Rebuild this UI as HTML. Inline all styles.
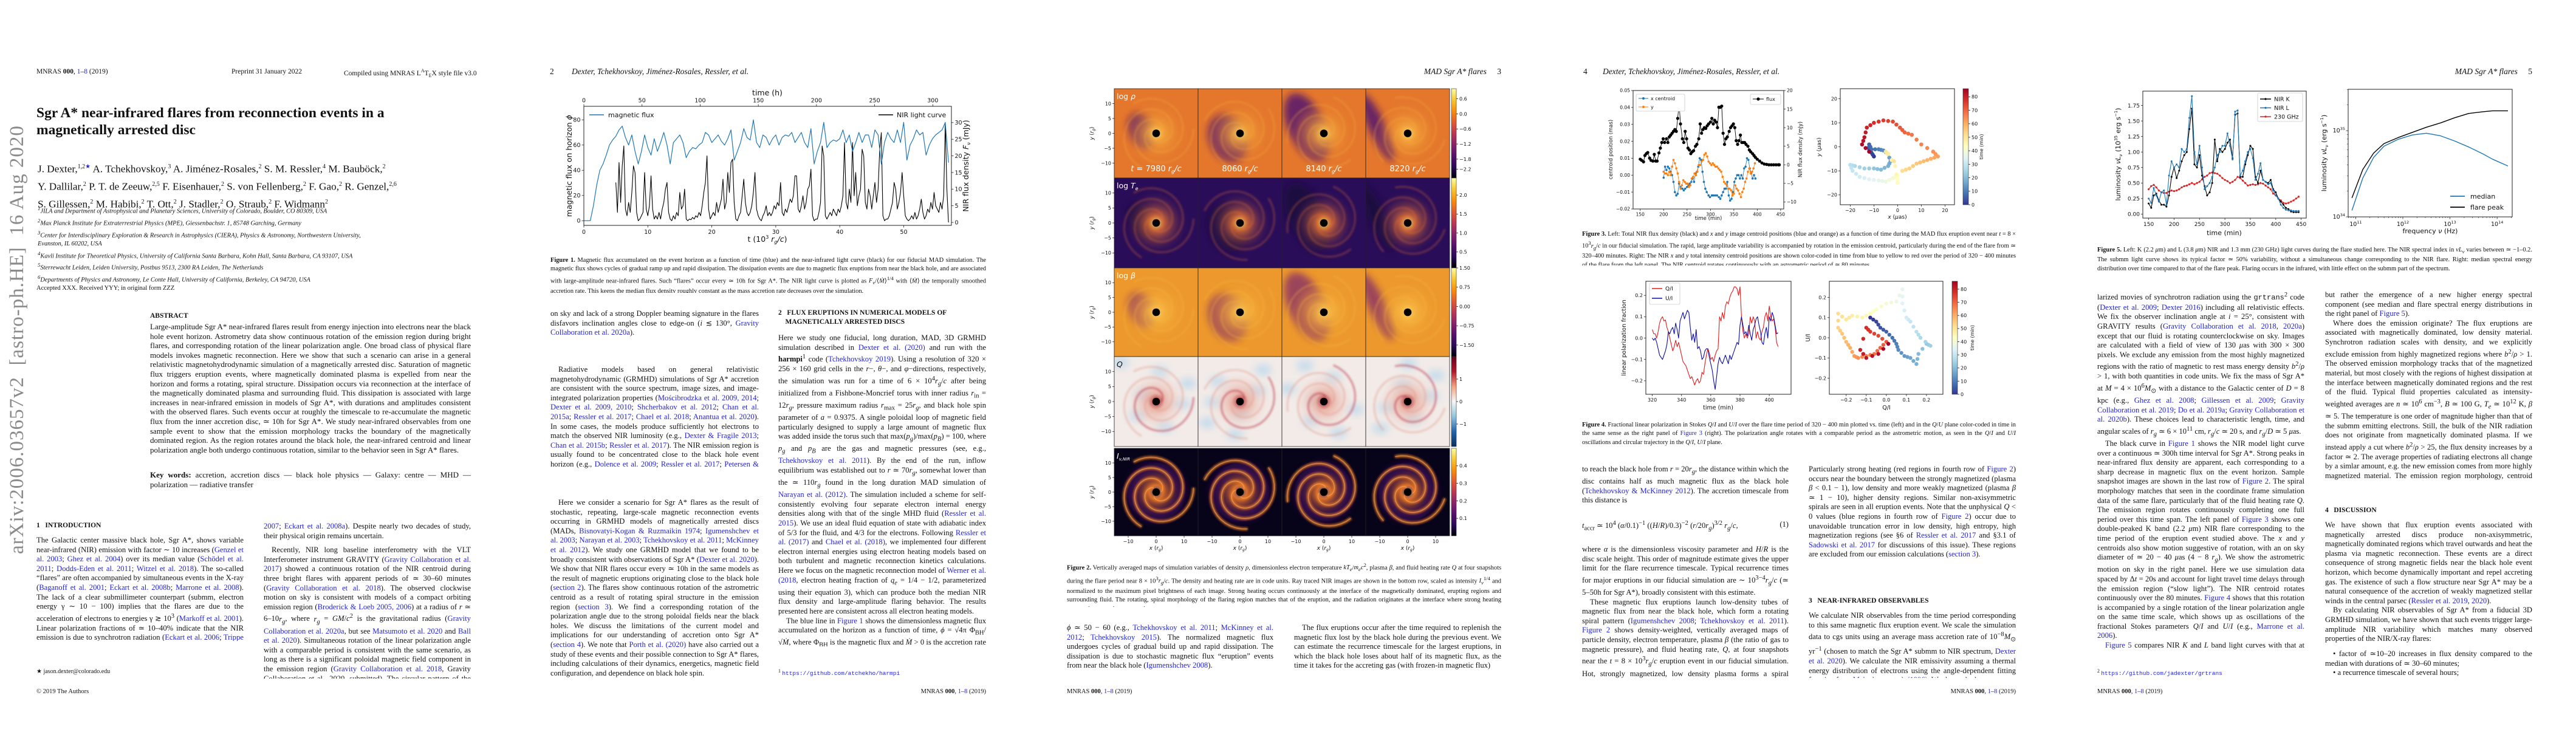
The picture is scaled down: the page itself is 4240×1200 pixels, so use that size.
<!DOCTYPE html>
<html><head><meta charset="utf-8">
<style>
*{margin:0;padding:0;box-sizing:border-box}
body{width:4240px;height:1200px;background:#fff;position:relative;overflow:hidden;font-family:"Liberation Serif",serif;color:#111}
.a{position:absolute}
.t{position:absolute;font-size:12.6px;line-height:15.6px;text-align:justify;overflow:hidden}
.t p{text-indent:0}
.t p.i{text-indent:13px}
.c{color:#2424d8}
.cap{position:absolute;font-size:10.4px;line-height:14.4px;text-align:justify;overflow:hidden}
.hd{position:absolute;font-size:11.5px;white-space:nowrap}
.hi{position:absolute;font-size:13.5px;font-style:italic;white-space:nowrap}
.sec{position:absolute;font-size:11.5px;font-weight:bold;line-height:15px}
.ft{position:absolute;font-size:10.5px;white-space:nowrap}
svg text{font-family:"DejaVu Sans",sans-serif}
</style></head><body>

<!-- ============ PAGE 1 ============ -->
<div class="hd" style="left:60px;top:112px">MNRAS <b>000</b>, <span class="c">1</span>–<span class="c">8</span> (2019)</div>
<div class="hd" style="left:381px;top:112px">Preprint 31 January 2022</div>
<div class="hd" style="left:566px;top:112px">Compiled using MNRAS L<sup style="font-size:8px">A</sup>T<sub style="font-size:8px">E</sub>X style file v3.0</div>
<div class="a" style="left:60px;top:172px;font-size:23.5px;font-weight:bold;line-height:28px;width:700px">Sgr A* near-infrared flares from reconnection events in a<br>magnetically arrested disc</div>
<div class="a" style="left:62px;top:262px;font-size:17.2px;line-height:25.5px;width:730px;white-space:nowrap">J. Dexter,<sup style="font-size:10px">1,2<span class="c">★</span></sup> A. Tchekhovskoy,<sup style="font-size:10px">3</sup> A. Jiménez-Rosales,<sup style="font-size:10px">2</sup> S. M. Ressler,<sup style="font-size:10px">4</sup> M. Bauböck,<sup style="font-size:10px">2</sup><br>Y. Dallilar,<sup style="font-size:10px">2</sup> P. T. de Zeeuw,<sup style="font-size:10px">2,5</sup> F. Eisenhauer,<sup style="font-size:10px">2</sup> S. von Fellenberg,<sup style="font-size:10px">2</sup> F. Gao,<sup style="font-size:10px">2</sup> R. Genzel,<sup style="font-size:10px">2,6</sup><br>S. Gillessen,<sup style="font-size:10px">2</sup> M. Habibi,<sup style="font-size:10px">2</sup> T. Ott,<sup style="font-size:10px">2</sup> J. Stadler,<sup style="font-size:10px">2</sup> O. Straub,<sup style="font-size:10px">2</sup> F. Widmann<sup style="font-size:10px">2</sup></div>
<div class="a" style="left:62px;top:336px;font-size:10.4px;font-style:italic;line-height:14.3px;width:720px"><sup>1</sup>JILA and Department of Astrophysical and Planetary Sciences, University of Colorado, Boulder, CO 80309, USA<br><sup>2</sup>Max Planck Institute for Extraterrestrial Physics (MPE), Giessenbachstr. 1, 85748 Garching, Germany<br><sup>3</sup>Center for Interdisciplinary Exploration &amp; Research in Astrophysics (CIERA), Physics &amp; Astronomy, Northwestern University,<br>Evanston, IL 60202, USA<br><sup>4</sup>Kavli Institute for Theoretical Physics, University of California Santa Barbara, Kohn Hall, Santa Barbara, CA 93107, USA<br><sup>5</sup>Sterrewacht Leiden, Leiden University, Postbus 9513, 2300 RA Leiden, The Netherlands<br><sup>6</sup>Departments of Physics and Astronomy, Le Conte Hall, University of California, Berkeley, CA 94720, USA</div>
<div class="hd" style="left:60px;top:469px;font-size:10.5px">Accepted XXX. Received YYY; in original form ZZZ</div>
<div class="a" style="left:247px;top:514px;font-size:11.5px;font-weight:bold">ABSTRACT</div>
<div class="t" style="left:247px;top:530px;width:528px;height:236px;font-size:13px">Large-amplitude Sgr A* near-infrared flares result from energy injection into electrons near the black hole event horizon. Astrometry data show continuous rotation of the emission region during bright flares, and corresponding rotation of the linear polarization angle. One broad class of physical flare models invokes magnetic reconnection. Here we show that such a scenario can arise in a general relativistic magnetohydrodynamic simulation of a magnetically arrested disc. Saturation of magnetic flux triggers eruption events, where magnetically dominated plasma is expelled from near the horizon and forms a rotating, spiral structure. Dissipation occurs via reconnection at the interface of the magnetically dominated plasma and surrounding fluid. This dissipation is associated with large increases in near-infrared emission in models of Sgr A*, with durations and amplitudes consistent with the observed flares. Such events occur at roughly the timescale to re-accumulate the magnetic flux from the inner accretion disc, ≃ 10h for Sgr A*. We study near-infrared observables from one sample event to show that the emission morphology tracks the boundary of the magnetically dominated region. As the region rotates around the black hole, the near-infrared centroid and linear polarization angle both undergo continuous rotation, similar to the behavior seen in Sgr A* flares.</div>
<div class="t" style="left:247px;top:774px;width:528px;height:32px;font-size:13px"><b>Key words:</b> accretion, accretion discs — black hole physics — Galaxy: centre — MHD — polarization — radiative transfer</div>
<div class="a" style="left:-255px;top:607px;width:570px;height:40px;transform:rotate(-90deg);font-size:33px;color:#8a8a8a;white-space:nowrap;letter-spacing:1px;text-align:center">arXiv:2006.03657v2 &nbsp;[astro-ph.HE] &nbsp;16 Aug 2020</div>
<div class="sec" style="left:60px;top:858px">1&nbsp;&nbsp; INTRODUCTION</div>
<div class="t" style="left:60px;top:882px;width:341px;height:173px"><p>The Galactic center massive black hole, Sgr A*, shows variable near-infrared (NIR) emission with factor ∼ 10 increases (<span class="c">Genzel et al. 2003</span>; <span class="c">Ghez et al. 2004</span>) over its median value (<span class="c">Schödel et al. 2011</span>; <span class="c">Dodds-Eden et al. 2011</span>; <span class="c">Witzel et al. 2018</span>). The so-called “flares” are often accompanied by simultaneous events in the X-ray (<span class="c">Baganoff et al. 2001</span>; <span class="c">Eckart et al. 2008b</span>; <span class="c">Marrone et al. 2008</span>). The lack of a clear submillimeter counterpart (submm, electron energy γ ∼ 10 − 100) implies that the flares are due to the acceleration of electrons to energies γ ≳ 10<sup>3</sup> (<span class="c">Markoff et al. 2001</span>). Linear polarization fractions of ≃ 10–40% indicate that the NIR emission is due to synchrotron radiation (<span class="c">Eckart et al. 2006</span>; <span class="c">Trippe et al.</span></p></div>
<div class="t" style="left:434px;top:859px;width:341px;height:258px"><p><span class="c">2007</span>; <span class="c">Eckart et al. 2008a</span>). Despite nearly two decades of study, their physical origin remains uncertain.</p><p class="i" style="margin-top:8px">Recently, NIR long baseline interferometry with the VLT Interferometer instrument GRAVITY (<span class="c">Gravity Collaboration et al. 2017</span>) showed a continuous rotation of the NIR centroid during three bright flares with apparent periods of ≃ 30–60 minutes (<span class="c">Gravity Collaboration et al. 2018</span>). The observed clockwise motion on sky is consistent with models of a compact orbiting emission region (<span class="c">Broderick &amp; Loeb 2005, 2006</span>) at a radius of <i>r</i> ≃ 6–10<i>r<sub>g</sub></i>, where <i>r<sub>g</sub></i> = <i>GM</i>/<i>c</i><sup>2</sup> is the gravitational radius (<span class="c">Gravity Collaboration et al. 2020a</span>, but see <span class="c">Matsumoto et al. 2020</span> and <span class="c">Ball et al. 2020</span>). Simultaneous rotation of the linear polarization angle with a comparable period is consistent with the same scenario, as long as there is a significant poloidal magnetic field component in the emission region (<span class="c">Gravity Collaboration et al. 2018</span>, Gravity Collaboration et al., 2020, submitted). The circular pattern of the centroid motion</p></div>
<div class="ft" style="left:60px;top:1100px;font-size:10px">★ jason.dexter@colorado.edu</div>
<div class="ft" style="left:60px;top:1133px">© 2019 The Authors</div>

<!-- ============ PAGE 2 ============ -->
<div class="hi" style="left:905px;top:110px;font-style:normal">2</div>
<div class="hi" style="left:941px;top:110px">Dexter, Tchekhovskoy, Jiménez-Rosales, Ressler, et al.</div>
<div class="cap" style="left:906px;top:422px;width:717px;height:60px"><b>Figure 1.</b> Magnetic flux accumulated on the event horizon as a function of time (blue) and the near-infrared light curve (black) for our fiducial MAD simulation. The magnetic flux shows cycles of gradual ramp up and rapid dissipation. The dissipation events are due to magnetic flux eruptions from near the black hole, and are associated with large-amplitude near-infrared flares. Such “flares” occur every ≃ 10h for Sgr A*. The NIR light curve is plotted as <i>F<sub>ν</sub></i>/⟨<i>Ṁ</i>⟩<sup>1/4</sup> with ⟨<i>Ṁ</i>⟩ the temporally smoothed accretion rate. This keeps the median flux density roughly constant as the mass accretion rate decreases over the simulation.</div>
<div class="t" style="left:906px;top:509px;width:343px;height:48px">on sky and lack of a strong Doppler beaming signature in the flares disfavors inclination angles close to edge-on (<i>i</i> ≲ 130°, <span class="c">Gravity Collaboration et al. 2020a</span>).</div>
<div class="t" style="left:906px;top:601px;width:343px;height:173px"><p class="i">Radiative models based on general relativistic magnetohydrodynamic (GRMHD) simulations of Sgr A* accretion are consistent with the source spectrum, image sizes, and image-integrated polarization properties (<span class="c">Mościbrodzka et al. 2009, 2014</span>; <span class="c">Dexter et al. 2009, 2010</span>; <span class="c">Shcherbakov et al. 2012</span>; <span class="c">Chan et al. 2015a</span>; <span class="c">Ressler et al. 2017</span>; <span class="c">Chael et al. 2018</span>; <span class="c">Anantua et al. 2020</span>). In some cases, the models produce sufficiently hot electrons to match the observed NIR luminosity (e.g., <span class="c">Dexter &amp; Fragile 2013</span>; <span class="c">Chan et al. 2015b</span>; <span class="c">Ressler et al. 2017</span>). The NIR emission region is usually found to be concentrated close to the black hole event horizon (e.g., <span class="c">Dolence et al. 2009</span>; <span class="c">Ressler et al. 2017</span>; <span class="c">Petersen &amp; Gammie 2020</span>).</p></div>
<div class="t" style="left:906px;top:820px;width:343px;height:297px"><p class="i">Here we consider a scenario for Sgr A* flares as the result of stochastic, repeating, large-scale magnetic reconnection events occurring in GRMHD models of magnetically arrested discs (MADs, <span class="c">Bisnovatyi-Kogan &amp; Ruzmaikin 1974</span>; <span class="c">Igumenshchev et al. 2003</span>; <span class="c">Narayan et al. 2003</span>; <span class="c">Tchekhovskoy et al. 2011</span>; <span class="c">McKinney et al. 2012</span>). We study one GRMHD model that we found to be broadly consistent with observations of Sgr A* (<span class="c">Dexter et al. 2020</span>). We show that NIR flares occur every ≃ 10h in the same models as the result of magnetic eruptions originating close to the black hole (<span class="c">section 2</span>). The flares show continuous rotation of the astrometric centroid as a result of rotating spiral structure in the emission region (<span class="c">section 3</span>). We find a corresponding rotation of the polarization angle due to the strong poloidal fields near the black holes. We discuss the limitations of the current model and implications for our understanding of accretion onto Sgr A* (<span class="c">section 4</span>). We note that <span class="c">Porth et al. (2020)</span> have also carried out a study of these events and their possible connection to Sgr A* flares, including calculations of their dynamics, energetics, magnetic field configuration, and dependence on black hole spin.</p></div>
<div class="sec" style="left:1281px;top:508px;width:342px">2&nbsp;&nbsp; FLUX ERUPTIONS IN NUMERICAL MODELS OF<br>&nbsp;&nbsp;&nbsp;&nbsp;MAGNETICALLY ARRESTED DISCS</div>
<div class="t" style="left:1281px;top:549px;width:342px;height:515px"><p>Here we study one fiducial, long duration, MAD, 3D GRMHD simulation described in <span class="c">Dexter et al. (2020)</span> and run with the <b>harmpi</b><sup>1</sup> code (<span class="c">Tchekhovskoy 2019</span>). Using a resolution of 320 × 256 × 160 grid cells in the <i>r</i>−, <i>θ</i>−, and <i>φ</i>−directions, respectively, the simulation was run for a time of 6 × 10<sup>4</sup><i>r<sub>g</sub></i>/<i>c</i> after being initialized from a Fishbone-Moncrief torus with inner radius <i>r</i><sub>in</sub> = 12<i>r<sub>g</sub></i>, pressure maximum radius <i>r</i><sub>max</sub> = 25<i>r<sub>g</sub></i>, and black hole spin parameter of <i>a</i> = 0.9375. A single poloidal loop of magnetic field particularly designed to supply a large amount of magnetic flux was added inside the torus such that max(<i>p<sub>g</sub></i>)/max(<i>p<sub>B</sub></i>) = 100, where <i>p<sub>g</sub></i> and <i>p<sub>B</sub></i> are the gas and magnetic pressures (see, e.g., <span class="c">Tchekhovskoy et al. 2011</span>). By the end of the run, inflow equilibrium was established out to <i>r</i> ≃ 70<i>r<sub>g</sub></i>, somewhat lower than the ≃ 110<i>r<sub>g</sub></i> found in the long duration MAD simulation of <span class="c">Narayan et al. (2012)</span>. The simulation included a scheme for self-consistently evolving four separate electron internal energy densities along with that of the single MHD fluid (<span class="c">Ressler et al. 2015</span>). We use an ideal fluid equation of state with adiabatic index of 5/3 for the fluid, and 4/3 for the electrons. Following <span class="c">Ressler et al. (2017)</span> and <span class="c">Chael et al. (2018)</span>, we implemented four different electron internal energies using electron heating models based on both turbulent and magnetic reconnection kinetics calculations. Here we focus on the magnetic reconnection model of <span class="c">Werner et al. (2018</span>, electron heating fraction of <i>q<sub>e</sub></i> = 1/4 − 1/2, parameterized using their equation 3), which can produce both the median NIR flux density and large-amplitude flaring behavior. The results presented here are consistent across all electron heating models.</p><p class="i">The blue line in <span class="c">Figure 1</span> shows the dimensionless magnetic flux accumulated on the horizon as a function of time, <i>ϕ</i> = √4π Φ<sub>BH</sub>/√<i>Ṁ</i>, where Φ<sub>BH</sub> is the magnetic flux and <i>Ṁ</i> &gt; 0 is the accretion rate which we smooth over timescales of 1000 <i>r<sub>g</sub></i>/<i>c</i>. Magnetic flux is advected inwards with the flow and rapidly builds up on the event horizon, saturating in a MAD state where</p></div>
<div class="ft" style="left:1281px;top:1100px;font-size:9.5px"><sup>1</sup> <span class="c" style="font-family:'Liberation Mono',monospace">https://github.com/atchekho/harmpi</span></div>
<div class="ft" style="left:1450px;top:1133px;width:173px;text-align:right">MNRAS <b>000</b>, <span class="c">1</span>–<span class="c">8</span> (2019)</div>

<!-- ============ PAGE 3 ============ -->
<div class="hi" style="left:2250px;top:110px;width:221px;text-align:right">MAD Sgr A* flares <span style="font-style:normal;margin-left:14px">3</span></div>
<div class="cap" style="left:1756px;top:923px;width:715px;height:76px"><b>Figure 2.</b> Vertically averaged maps of simulation variables of density <i>ρ</i>, dimensionless electron temperature <i>kT<sub>e</sub></i>/<i>m<sub>e</sub>c</i><sup>2</sup>, plasma <i>β</i>, and fluid heating rate <i>Q</i> at four snapshots during the flare period near 8 × 10<sup>3</sup><i>r<sub>g</sub></i>/<i>c</i>. The density and heating rate are in code units. Ray traced NIR images are shown in the bottom row, scaled as intensity <i>I<sub>ν</sub></i><sup>1/4</sup> and normalized to the maximum pixel brightness of each image. Strong heating occurs continuously at the interface of the magnetically dominated, erupting regions and surrounding fluid. The rotating, spiral morphology of the flaring region matches that of the eruption, and the radiation originates at the interface where strong heating occurs via magnetic reconnection.</div>
<div class="t" style="left:1756px;top:1026px;width:340px;height:80px"><i>ϕ</i> ≃ 50 − 60 (e.g., <span class="c">Tchekhovskoy et al. 2011</span>; <span class="c">McKinney et al. 2012</span>; <span class="c">Tchekhovskoy 2015</span>). The normalized magnetic flux undergoes cycles of gradual build up and rapid dissipation. The dissipation is due to stochastic magnetic flux “eruption” events from near the black hole (<span class="c">Igumenshchev 2008</span>).</div>
<div class="t" style="left:2130px;top:1026px;width:341px;height:80px"><p class="i">The flux eruptions occur after the time required to replenish the magnetic flux lost by the black hole during the previous event. We can estimate the recurrence timescale for the largest eruptions, in which the black hole loses about half of its magnetic flux, as the time it takes for the accreting gas (with frozen-in magnetic flux)</p></div>
<div class="ft" style="left:1756px;top:1133px">MNRAS <b>000</b>, <span class="c">1</span>–<span class="c">8</span> (2019)</div>

<!-- ============ PAGE 4 ============ -->
<div class="hi" style="left:2606px;top:110px;font-style:normal">4</div>
<div class="hi" style="left:2638px;top:110px">Dexter, Tchekhovskoy, Jiménez-Rosales, Ressler, et al.</div>
<div class="cap" style="left:2604px;top:379px;width:714px;height:58px"><b>Figure 3.</b> Left: Total NIR flux density (black) and <i>x</i> and <i>y</i> image centroid positions (blue and orange) as a function of time during the MAD flux eruption event near <i>t</i> = 8 × 10<sup>3</sup><i>r<sub>g</sub></i>/<i>c</i> in our fiducial simulation. The rapid, large amplitude variability is accompanied by rotation in the emission centroid, particularly during the end of the flare from ≃ 320–400 minutes. Right: The NIR <i>x</i> and <i>y</i> total intensity centroid positions are shown color-coded in time from blue to yellow to red over the period of 320 − 400 minutes of the flare from the left panel. The NIR centroid rotates continuously with an astrometric period of ≃ 80 minutes.</div>
<div class="cap" style="left:2604px;top:693px;width:714px;height:44px"><b>Figure 4.</b> Fractional linear polarization in Stokes <i>Q</i>/<i>I</i> and <i>U</i>/<i>I</i> over the flare time period of 320 − 400 min plotted vs. time (left) and in the <i>Q</i>/<i>U</i> plane color-coded in time in the same sense as the right panel of <span class="c">Figure 3</span> (right). The polarization angle rotates with a comparable period as the astrometric motion, as seen in the <i>Q</i>/<i>I</i> and <i>U</i>/<i>I</i> oscillations and circular trajectory in the <i>Q</i>/<i>I</i>, <i>U</i>/<i>I</i> plane.</div>
<div class="t" style="left:2604px;top:765px;width:340px;height:63px">to reach the black hole from <i>r</i> = 20<i>r<sub>g</sub></i>, the distance within which the disc contains half as much magnetic flux as the black hole (<span class="c">Tchekhovskoy &amp; McKinney 2012</span>). The accretion timescale from this distance is</div>
<div class="a" style="left:2604px;top:856px;width:340px;font-size:12.6px;white-space:nowrap"><i>t</i><sub>accr</sub> ≃ 10<sup>4</sup> (<i>α</i>/0.1)<sup>−1</sup> ((<i>H</i>/<i>R</i>)/0.3)<sup>−2</sup> (<i>r</i>/20<i>r<sub>g</sub></i>)<sup>3/2</sup> <i>r<sub>g</sub></i>/<i>c</i>,<span style="position:absolute;right:0">(1)</span></div>
<div class="t" style="left:2604px;top:897px;width:340px;height:219px"><p>where <i>α</i> is the dimensionless viscosity parameter and <i>H</i>/<i>R</i> is the disc scale height. This order of magnitude estimate gives the upper limit for the flare recurrence timescale. Typical recurrence times for major eruptions in our fiducial simulation are ∼ 10<sup>3−4</sup><i>r<sub>g</sub></i>/<i>c</i> (≃ 5–50h for Sgr A*), broadly consistent with this estimate.</p><p class="i">These magnetic flux eruptions launch low-density tubes of magnetic flux from near the black hole, which form a rotating spiral pattern (<span class="c">Igumenshchev 2008</span>; <span class="c">Tchekhovskoy et al. 2011</span>). <span class="c">Figure 2</span> shows density-weighted, vertically averaged maps of particle density, electron temperature, plasma <i>β</i> (the ratio of gas to magnetic pressure), and fluid heating rate, <i>Q</i>, at four snapshots near the <i>t</i> = 8 × 10<sup>3</sup><i>r<sub>g</sub></i>/<i>c</i> eruption event in our fiducial simulation. Hot, strongly magnetized, low density plasma forms a spiral structure which rotates around the black hole at small radii of <i>r</i> ≲ 10<i>r<sub>g</sub></i>.</p></div>
<div class="t" style="left:2977px;top:765px;width:341px;height:160px">Particularly strong heating (red regions in fourth row of <span class="c">Figure 2</span>) occurs near the boundary between the strongly magnetized (plasma <i>β</i> &lt; 0.1 − 1), low density and more weakly magnetized (plasma <i>β</i> ≃ 1 − 10), higher density regions. Similar non-axisymmetric spirals are seen in all eruption events. Note that the unphysical <i>Q</i> &lt; 0 values (blue regions in fourth row of <span class="c">Figure 2</span>) occur due to unavoidable truncation error in low density, high entropy, high magnetization regions (see §6 of <span class="c">Ressler et al. 2017</span> and §3.1 of <span class="c">Sadowski et al. 2017</span> for discussions of this issue). These regions are excluded from our emission calculations (<span class="c">section 3</span>).</div>
<div class="sec" style="left:2977px;top:982px">3&nbsp;&nbsp; NEAR-INFRARED OBSERVABLES</div>
<div class="t" style="left:2977px;top:1006px;width:341px;height:110px">We calculate NIR observables from the time period corresponding to this same magnetic flux eruption event. We scale the simulation data to cgs units using an average mass accretion rate of 10<sup>−8</sup><i>M</i><sub>⊙</sub> yr<sup>−1</sup> (chosen to match the Sgr A* submm to NIR spectrum, <span class="c">Dexter et al. 2020</span>). We calculate the NIR emissivity assuming a thermal energy distribution of electrons using the angle-dependent fitting function from <span class="c">Mahadevan et al. (1996)</span>. We then calculate po-</div>
<div class="ft" style="left:3145px;top:1133px;width:173px;text-align:right">MNRAS <b>000</b>, <span class="c">1</span>–<span class="c">8</span> (2019)</div>

<!-- ============ PAGE 5 ============ -->
<div class="hi" style="left:3947px;top:110px;width:221px;text-align:right">MAD Sgr A* flares <span style="font-style:normal;margin-left:14px">5</span></div>
<div class="cap" style="left:3452px;top:405px;width:716px;height:44px"><b>Figure 5.</b> Left: K (2.2 <i>μ</i>m) and L (3.8 <i>μ</i>m) NIR and 1.3 mm (230 GHz) light curves during the flare studied here. The NIR spectral index in <i>νL<sub>ν</sub></i> varies between ≃ −1–0.2. The submm light curve shows its typical factor ≃ 50% variability, without a simultaneous change corresponding to the NIR flare. Right: median spectral energy distribution over time compared to that of the flare peak. Flaring occurs in the infrared, with little effect on the submm part of the spectrum.</div>
<div class="t" style="left:3452px;top:478px;width:341px;height:594px"><p>larized movies of synchrotron radiation using the <span style="font-family:'Liberation Mono',monospace;font-size:12px">grtrans</span><sup>2</sup> code (<span class="c">Dexter et al. 2009</span>; <span class="c">Dexter 2016</span>) including all relativistic effects. We fix the observer inclination angle at <i>i</i> = 25°, consistent with GRAVITY results (<span class="c">Gravity Collaboration et al. 2018</span>, <span class="c">2020a</span>) except that our fluid is rotating counterclockwise on sky. Images are calculated with a field of view of 130 <i>μ</i>as with 300 × 300 pixels. We exclude any emission from the most highly magnetized regions with the ratio of magnetic to rest mass energy density <i>b</i><sup>2</sup>/<i>ρ</i> &gt; 1, with both quantities in code units. We fix the mass of Sgr A* at <i>M</i> = 4 × 10<sup>6</sup><i>M</i><sub>⊙</sub> with a distance to the Galactic center of <i>D</i> = 8 kpc (e.g., <span class="c">Ghez et al. 2008</span>; <span class="c">Gillessen et al. 2009</span>; <span class="c">Gravity Collaboration et al. 2019</span>; <span class="c">Do et al. 2019a</span>; <span class="c">Gravity Collaboration et al. 2020b</span>). These choices lead to characteristic length, time, and angular scales of <i>r<sub>g</sub></i> ≃ 6 × 10<sup>11</sup> cm, <i>r<sub>g</sub></i>/<i>c</i> ≃ 20 s, and <i>r<sub>g</sub></i>/<i>D</i> ≃ 5 <i>μ</i>as.</p><p class="i">The black curve in <span class="c">Figure 1</span> shows the NIR model light curve over a continuous ≃ 300h time interval for Sgr A*. Strong peaks in near-infrared flux density are apparent, each corresponding to a sharp decrease in magnetic flux on the event horizon. Sample snapshot images are shown in the last row of <span class="c">Figure 2</span>. The spiral morphology matches that seen in the coordinate frame simulation data of the same flare, particularly that of the fluid heating rate <i>Q</i>. The emission region rotates continuously completing one full period over this time span. The left panel of <span class="c">Figure 3</span> shows one double-peaked K band (2.2 <i>μ</i>m) NIR flare corresponding to the time period of the eruption event studied above. The <i>x</i> and <i>y</i> centroids also show motion suggestive of rotation, with an on sky diameter of ≃ 20 − 40 <i>μ</i>as (4 − 8 <i>r<sub>g</sub></i>). We show the astrometric motion on sky in the right panel. Here we use simulation data spaced by Δ<i>t</i> = 20s and account for light travel time delays through the emission region (“slow light”). The NIR centroid rotates continuously over the 80 minutes. <span class="c">Figure 4</span> shows that this rotation is accompanied by a single rotation of the linear polarization angle on the same time scale, which shows up as oscillations of the fractional Stokes parameters <i>Q</i>/<i>I</i> and <i>U</i>/<i>I</i> (e.g., <span class="c">Marrone et al. 2006</span>).</p><p class="i"><span class="c">Figure 5</span> compares NIR <i>K</i> and <i>L</i> band light curves with that at 1.3mm (230 GHz). The spectral index is variable during the flare but fairly flat, ranging from values of −1 ≲ <i>α</i> ≲ 0.2 for <i>νL<sub>ν</sub></i> ∼ <i>ν<sup>α</sup></i>. There is no simultaneous rise in submm flux during the NIR flare,</p></div>
<div class="ft" style="left:3452px;top:1100px;font-size:9.5px"><sup>2</sup> <span class="c" style="font-family:'Liberation Mono',monospace">https://github.com/jadexter/grtrans</span></div>
<div class="t" style="left:3827px;top:478px;width:341px;height:312px"><p>but rather the emergence of a new higher energy spectral component (see median and flare spectral energy distributions in the right panel of <span class="c">Figure 5</span>).</p><p class="i">Where does the emission originate? The flux eruptions are associated with magnetically dominated, low density material. Synchrotron radiation scales with density, and we explicitly exclude emission from highly magnetized regions where <i>b</i><sup>2</sup>/<i>ρ</i> &gt; 1. The observed emission morphology tracks that of the magnetized material, but most closely with the regions of highest dissipation at the interface between magnetically dominated regions and the rest of the fluid. Typical fluid properties calculated as intensity-weighted averages are <i>n</i> ≃ 10<sup>6</sup> cm<sup>−3</sup>, <i>B</i> ≃ 100 G, <i>T<sub>e</sub></i> ≃ 10<sup>12</sup> K, <i>β</i> ≃ 5. The temperature is one order of magnitude higher than that of the submm emitting electrons. Still, the bulk of the NIR radiation does not originate from magnetically dominated plasma. If we instead apply a cut where <i>b</i><sup>2</sup>/<i>ρ</i> &gt; 25, the flux density increases by a factor ≃ 2. The average properties of radiating electrons all change by a simlar amount, e.g. the new emission comes from more highly magnetized material. The emission region morphology, centroid motion, and polarization behavior remain the same.</p></div>
<div class="sec" style="left:3827px;top:833px">4&nbsp;&nbsp; DISCUSSION</div>
<div class="t" style="left:3827px;top:857px;width:341px;height:203px"><p>We have shown that flux eruption events associated with magnetically arrested discs produce non-axisymmetric, magnetically dominated regions which travel outwards and heat the plasma via magnetic reconnection. These events are a direct consequence of strong magnetic fields near the black hole event horizon, which become dynamically important and repel accreting gas. The existence of such a flow structure near Sgr A* may be a natural consequence of the accretion of weakly magnetized stellar winds in the central parsec (<span class="c">Ressler et al. 2019</span>, <span class="c">2020</span>).</p><p class="i">By calculating NIR observables of Sgr A* from a fiducial 3D GRMHD simulation, we have shown that such events trigger large-amplitude NIR variability which matches many observed properties of the NIR/X-ray flares:</p></div>
<div class="t" style="left:3827px;top:1069px;width:341px;height:48px"><p style="text-indent:13px">• factor of ≃10–20 increases in flux density compared to the median with durations of ≃ 30–60 minutes;</p><p style="text-indent:13px">• a recurrence timescale of several hours;</p></div>
<div class="ft" style="left:3452px;top:1133px">MNRAS <b>000</b>, <span class="c">1</span>–<span class="c">8</span> (2019)</div>

<svg id="s" class="a" style="left:0;top:0;pointer-events:none" width="4240" height="1200"><defs id="defs"></defs></svg>

<script>
// ================= DATA =================
const fig1FluxStart = 0, fig1FluxStep = 0.5;
const fig1Flux = [0,0,0,12,28,40,45,52,60,64,67,72,75,66,60,68,55,45,55,68,58,52,65,55,62,70,60,45,62,65,68,62,50,55,58,57,60,62,70,68,62,65,68,63,60,65,72,48,55,62,73,66,64,80,62,58,68,66,60,65,68,60,66,68,67,70,62,66,70,62,58,73,45,55,62,78,58,62,64,63,65,72,62,68,55,62,70,62,68,68,58,72,68,45,62,70,65,62,72,62,78,48,60,65,72,68,70,52,60,65,68,70,72,78,46];
const fig1NirStart = 5, fig1NirStep = 0.25;
const fig1Nir = [12,3,18,6,17,23,4,2,6,3,9,17,15,3,0.5,1,2,3,15,4,2,5,14,4,1,2,1,3,1,4,6,10,12,3,1,0.5,2,1,3,2,9,4,5,10,1,0.5,1,0.8,1.5,1,2,1.5,3,2,5,9,12,20,4,1,2,3,2,6,3,5,7,13,4,6,15,9,18,19,6,1,0.5,2,3,8,13,6,3,2,3,5,9,15,4,2,1,0.5,2,3,5,2,3,2,3,5,4,6,5,12,3,2,4,3,5,7,6,8,14,14,4,3,5,8,4,6,10,11,16,2,0.5,1,1,3,6,23,20,2,1,2,3,2,4,3,2,4,3,5,8,24,6,4,10,6,24,8,15,5,8,10,22,20,6,4,10,8,4,8,12,6,10,22,27,2,0.5,1,1,2,4,6,12,10,4,6,9,15,8,2,1,0.5,1,2,1,3,1,2,4,7,3,1,2,4,3,6,4,9,5,4,3,6,4,8,30,10,0];
const fig1XTicks = [0,10,20,30,40,50];
const fig1LeftTicks = [0,20,40,60,80];
const fig1RightTicks = [0,5,10,15,20,25,30];
const fig1TopTicksHours = [0,50,100,150,200,250,300];

const fig3FluxT = [150,153,157,160,163,166,170,173,177,180,183,186,190,193,196,199,202,206,209,212,215,218,221,224,227,230,233,236,240,243,246,249,252,255,258,261,264,268,271,275,278,281,284,287,290,293,296,300,303,306,309,312,315,318,321,324,327,330,333,336,340,343,346,349,352,355,358,361,364,367,370,373,376,380,383,386,390,393,396,400,405,410,415,420,425,430,435,440,445,447];
const fig3FluxV = [1.5,1.2,0.8,2.5,3,3.3,1.8,1.2,1,2.8,1,1,3.2,4.5,6,7,6,7,6,7.5,8,8.5,9,9.5,9,12.5,16.5,11,7,6,9,7,4.5,4,3,3.5,3.8,5,5.5,7,11,8.5,9.5,10,9.8,10.5,11,11.5,12.5,11,12,11.5,10,15.5,15.5,15.8,8.5,5.5,7,7.5,9,10,10.5,11,10,6.5,5.5,6.5,8,6,6,6,5.5,5,4,3.5,3,2.5,2,1.5,1,0.5,0.2,0.1,0,0,0,0,0,0];
const fig3CentT = [200,203,206,209,212,215,218,221,224,227,230,233,236,240,243,246,250,253,256,259,262,265,268,271,274,277,280,283,286,289,292,296,299,303,306,310,314,318,321,324,327,330,333,336,339,342,345,348,351,354,357,360,363,366,369,372,375,378,381,384,387,390,393,396];
const fig3CentX = [-0.0015,0.005,0.003,0.005,0.004,0.002,0,-0.004,-0.010,-0.012,-0.011,-0.005,-0.007,-0.008,-0.009,-0.008,-0.007,-0.006,-0.005,-0.004,-0.002,-0.004,0.001,0.002,0.005,0.010,0.009,0.002,-0.004,-0.008,-0.010,-0.012,-0.013,-0.012,-0.012,-0.012,-0.012,-0.013,-0.014,-0.012,-0.010,-0.008,-0.008,-0.004,-0.012,-0.015,-0.014,-0.010,-0.004,-0.002,0,0,-0.002,0,-0.002,0.004,0.005,0.010,0.009,0.004,0.001,-0.002,0,-0.002];
const fig3CentYT = [200,203,206,209,212,215,218,221,224,227,230,233,236,239,242,245,248,251,254,257,260,263,266,269,272,275,278,281,284,287,290,293,296,299,302,305,308,311,314,317,320,323,326,329,332,335,338,341,344,347,350,353,356,359,362,365,368,371,374,377,380,383,386,389,392,395];
const fig3CentY = [0.002,0.001,0.001,0,0.002,0,0.005,0.009,0.007,0.004,0.001,-0.004,-0.008,-0.006,-0.003,-0.004,-0.005,-0.005,-0.007,-0.006,-0.002,-0.001,0.001,0,0.002,0.006,0.006,0.008,0.009,0.012,0.013,0.011,0.008,0.007,0.006,0.007,0.006,0.005,0.005,0.004,0.003,0.002,-0.001,-0.004,-0.005,-0.006,-0.008,-0.008,-0.009,-0.012,-0.011,-0.006,-0.008,-0.009,-0.011,-0.013,-0.010,-0.008,-0.004,-0.002,0.002,0.004,0.001,0.002,0.004,0.007];
const fig3XTicks = [150,200,250,300,350,400,450];
const fig3LeftTicks = [-0.02,-0.01,0,0.01,0.02,0.03,0.04,0.05];
const fig3LeftLabels = ['−0.02','−0.01','0.00','0.01','0.02','0.03','0.04','0.05'];
const fig3RightTicks = [-10,-5,0,5,10,15,20];
const fig3SkyT = [0,2,4,6,8,10,12,14,16,18,20,22,24,26,28,30,32,34,36,38,40,42,44,46,48,50,52,54,56,58,60,62,64,66,68,70,72,74,76,78,80,82,84,86];
const fig3SkyX = [-10,-11,-12,-12,-11,-8,-6,-4,-3,-4,-7,-10,-14,-18,-20,-19,-16,-12,-8,-5,-2,0,0,-1,-4,-5,2,5,8,11,14,17,15,10,6,3,1,-2,-6,-10,-13,-14,-15,-12];
const fig3SkyY = [-4,-2.5,-1,1,-1,-1,-1.5,-3,-6,-8,-9.5,-9,-9,-8,-7.5,-10,-12.5,-13.5,-14,-14.5,-13,-12,-15,-8,-3,-2,-10,-9,-7,-6,-5,-4,-2,1,5,6,8,10.5,11,10,8,4,1,-2];
const skyTicks = [-20,-10,0,10,20];
const cbTicks = [0,10,20,30,40,50,60,70,80];

const fig4Start = 320, fig4Step = 1;
const fig4Q = [.04,.02,.02,0,.03,.07,.09,.1,.08,.085,.05,.03,0,-.03,-.06,-.04,-.01,-.04,-.02,-.05,-.08,-.11,-.12,-.13,-.15,-.17,-.19,-.18,-.2,-.22,-.2,-.19,-.21,-.2,-.16,-.17,-.12,-.08,-.05,-.07,-.1,-.09,-.11,-.08,-.06,-.05,.1,.08,.12,.09,.15,.17,.16,.19,.21,.22,.24,.24,.23,.2,.24,.1,.03,0,.02,0,.02,.1,.07,.1,.08,0,.03,0,-.01,.03,.05,.1,.12,.08,.15,.1,.08,.09,.05,-.02,-.04];
const fig4U = [0,-.01,0,-.02,-.05,-.08,-.09,-.1,-.08,-.06,-.03,.03,.02,.04,.05,.02,.07,.04,0,.08,.1,.12,.09,.11,.13,.12,.05,-.01,.02,-.02,.04,-.05,-.04,-.06,-.1,-.09,-.06,-.05,-.05,-.09,-.12,-.15,-.2,-.24,-.18,-.12,-.09,-.11,-.12,-.1,-.08,-.1,-.12,-.08,-.1,-.08,-.06,-.04,-.02,-.03,.06,.1,.06,.02,.03,.01,.06,.02,-.01,.04,.06,.09,.1,.06,.03,-.02,-.03,.02,.05,0,.1,.08,.12,.1,.06,.02,.025];
const fig4XTicks = [320,340,360,380,400];
const fig4YTicks = [-0.2,-0.1,0,0.1,0.2];
const fig4YLabels = ['−0.2','−0.1','0.0','0.1','0.2'];
const fig4QUT = [0,2,4,6,8,10,12,14,16,18,20,22,24,26,28,30,32,34,36,38,40,42,44,46,48,50,52,54,56,58,60,62,64,66,68,70,72,74,76,78,80,82,84,86];
const fig4QUq = [-.08,-.05,-.03,0,.03,.05,.06,.09,.12,.15,.16,.2,.22,.17,.15,.12,.1,.08,.08,.05,0,-.05,-.08,-.12,-.17,-.2,-.24,-.24,-.22,-.2,-.18,-.16,-.14,-.1,-.06,-.03,0,-.04,-.08,-.1,-.13,-.1,-.04,.01];
const fig4QUu = [.1,.08,.05,.03,0,-.03,-.06,-.09,-.1,-.13,-.08,-.03,-.04,0,.03,.08,.1,.17,.24,.18,.17,.14,.12,.1,.11,.09,.12,.05,.02,-.02,-.05,-.09,-.1,-.09,-.08,-.05,-.02,.01,.03,.05,-.06,-.1,-.08,-.03];
const quTicks = [-0.2,-0.1,0,0.1,0.2];
const quLabels = ['−0.2','−0.1','0.0','0.1','0.2'];

const fig5T = [150,155,160,165,170,175,180,185,190,195,200,205,210,215,220,225,230,235,240,245,250,255,260,265,270,275,280,285,290,295,300,305,310,315,320,325,330,335,340,345,350,355,360,365,370,375,380,385,390,395,400,405,410,415,420,425,430,435,440,445];
const fig5K = [.17,.10,.30,.33,.22,.15,.15,.12,.30,.60,.75,.58,.70,.85,.95,1.00,1.37,1.70,.80,.75,.95,.62,.45,.30,.35,.50,1.20,.85,1.05,1.00,1.05,1.15,1.20,.90,1.60,1.62,.60,.60,.80,.95,1.10,1.05,.60,.50,.70,.55,.52,.50,.55,.40,.35,.25,.20,.15,.10,.08,.04,.03,.03,.03];
const fig5L = [.25,.18,.42,.30,.20,.35,.38,.15,.62,.85,.75,.80,.75,1.05,1.00,1.05,1.55,1.90,1.00,.80,1.10,.75,.40,.45,.50,.60,.75,.95,1.00,1.10,1.10,1.30,1.10,.88,1.65,1.67,.62,.70,.85,1.00,1.05,.90,.55,.65,.82,.55,.52,.48,.50,.38,.30,.25,.15,.10,.07,.06,.06,.05,.05,.05];
const fig5R = [.40,.45,.47,.43,.38,.35,.34,.34,.36,.38,.37,.38,.40,.43,.45,.46,.48,.50,.48,.50,.52,.56,.60,.62,.66,.67,.66,.65,.62,.58,.55,.53,.50,.52,.55,.60,.58,.54,.50,.46,.47,.48,.47,.48,.50,.49,.46,.43,.40,.33,.30,.25,.22,.18,.17,.18,.20,.22,.25,.28];
const fig5XTicks = [150,200,250,300,350,400,450];
const fig5YTicks = [0,0.25,0.5,0.75,1.0,1.25,1.5,1.75];
const fig5YLabels = ['0.00','0.25','0.50','0.75','1.00','1.25','1.50','1.75'];
const sedLogNu = [10.92,11.15,11.38,11.6,11.9,12.2,12.5,12.8,13.1,13.4,13.7,13.9,14.23];
const sedMedian = [34.075,34.45,34.69,34.82,34.9,34.95,34.97,34.94,34.88,34.81,34.73,34.67,34.59];
const sedPeak = [34.22,34.55,34.74,34.85,34.92,34.98,35.04,35.09,35.15,35.2,35.22,35.23,35.23];
const sedXTicks = [11,12,13,14];
const sedYTicks = [34,35];

const cb2Ticks = [['0.6','0.0','−0.6','−1.2','−1.8','−2.2'],['2.0','1.5','1.0','0.5'],['1.50','0.75','0.00','−0.75','−1.50'],['1','0','−1'],['0.4','0.3','0.2','0.1']];
const cb2Vals = [[0.6,0,-0.6,-1.2,-1.8,-2.2],[2.0,1.5,1.0,0.5],[1.5,0.75,0,-0.75,-1.5],[1,0,-1],[0.4,0.3,0.2,0.1]];
const cb2Range = [[1.0,-2.55],[2.45,0.08],[1.5,-1.95],[2.0,-2.0],[0.5,0.0]];
const fig2Times = ['7980','8060','8140','8220'];

// ================= HELPERS =================
const NS='http://www.w3.org/2000/svg';
const svg=document.getElementById('s');
const defs=document.getElementById('defs');
function el(tag,attrs,parent){const e=document.createElementNS(NS,tag);for(const k in attrs)e.setAttribute(k,attrs[k]);(parent||svg).appendChild(e);return e;}
function txt(x,y,s,attrs,parent){const t=el('text',Object.assign({x:x,y:y,fill:'#111'},attrs||{}),parent);t.textContent=s;return t;}
function rich(x,y,html,attrs,parent){const t=el('text',Object.assign({x:x,y:y,fill:'#111'},attrs||{}),parent);t.innerHTML=html;return t;}
function lin(d0,d1,r0,r1){return v=>r0+(v-d0)/(d1-d0)*(r1-r0);}
function group(name){const g=el('g',{});return g;}
function frame(g,x0,y0,x1,y1){const r=el('rect',{x:x0,y:y0,width:x1-x0,height:y1-y0,fill:'none',stroke:'#222','stroke-width':1},g);}
function ticksX(g,X,y0,vals,labs,fs,len,up){vals.forEach((v,i)=>{const x=X(v);const l=el('line',{x1:x,x2:x,y1:y0,y2:up?y0-len:y0+len,stroke:'#222','stroke-width':0.8},g);const t=txt(x,up?y0-len-3:y0+len+fs+1,labs[i],{'font-size':fs,'text-anchor':'middle'},g);});}
function ticksY(g,Y,x0,vals,labs,fs,len,right){vals.forEach((v,i)=>{const y=Y(v);const l=el('line',{x1:x0,x2:right?x0+len:x0-len,y1:y,y2:y,stroke:'#222','stroke-width':0.8},g);const t=txt(right?x0+len+2:x0-len-2,y+fs*0.36,labs[i],{'font-size':fs,'text-anchor':right?'start':'end'},g);});}
function line(g,xs,ys,X,Y,color,w){const d=xs.map((x,i)=>(i?'L':'M')+X(x).toFixed(2)+' '+Y(ys[i]).toFixed(2)).join('');return el('path',{d:d,fill:'none',stroke:color,'stroke-width':w,'stroke-linejoin':'round'},g);}
function dots(g,xs,ys,X,Y,color,r){xs.forEach((x,i)=>{const c=el('circle',{cx:X(x),cy:Y(ys[i]),r:r,fill:color},g);});}
function fmt(v){return String(v);}
const RYB=['#313695','#4575b4','#74add1','#abd9e9','#e0f3f8','#ffffbf','#fee090','#fdae61','#f46d43','#d73027','#a50026'];
function hex(h){return [parseInt(h.substr(1,2),16),parseInt(h.substr(3,2),16),parseInt(h.substr(5,2),16)];}
function cmap(f){f=Math.max(0,Math.min(1,f));const p=f*10,i=Math.min(9,Math.floor(p)),u=p-i;const a=hex(RYB[i]),b=hex(RYB[i+1]);return 'rgb('+a.map((v,k)=>Math.round(v+(b[k]-v)*u)).join(',')+')';}
function gradient(id,stops,vertical){const g=el('linearGradient',{id:id,x1:0,y1:vertical?1:0,x2:vertical?0:1,y2:0},defs);stops.forEach((c,i)=>el('stop',{offset:(i/(stops.length-1)),'stop-color':c},g));}
gradient('ryb',RYB,true);
const INF=['#000004','#2a0a5a','#57106e','#8a226a','#bc3754','#e45a31','#f98e09','#f9c932','#fcffa4'];
gradient('inferno',INF,true);
gradient('rdbu',['#053061','#2166ac','#92c5de','#f7f7f7','#f4a582','#b2182b','#67001f'],true);
function colorbar(g,x,y0,y1,w,grad,vals,labs,vmin,vmax,fs,label,lx){const r=el('rect',{x:x,y:y0,width:w,height:y1-y0,fill:'url(#'+grad+')',stroke:'#333','stroke-width':0.6},g);const Y=lin(vmin,vmax,y1,y0);ticksY(g,Y,x+w,vals,labs,fs,3,true);if(label){const t=txt(lx,(y0+y1)/2,label,{'font-size':fs,'text-anchor':'middle',transform:'rotate(-90 '+lx+' '+(y0+y1)/2+')'},g);}}

// ================= FIGURE 1 =================
(function(){
const g=group('figure1-flux-lightcurve');
const x0=961,x1=1566,y0=175,y1=371;
const X=lin(0,57.46,x0,x1),YL=lin(-3.7,90.7,y1,y0),YR=lin(-0.9,34.9,y1,y0),XH=lin(0,57.46*5.5,x0,x1);
const fluxT=fig1Flux.map((v,i)=>fig1FluxStart+i*fig1FluxStep);
const nirT=fig1Nir.map((v,i)=>fig1NirStart+i*fig1NirStep);
const nir=line(g,nirT,fig1Nir,X,YR,'#000',1.1);


const fl=line(g,fluxT,fig1Flux,X,YL,'#1f77b4',1.2);


frame(g,x0,y0,x1,y1);
ticksX(g,X,y1,fig1XTicks,fig1XTicks.map(fmt),9.5,3.5,false);
ticksX(g,XH,y0,fig1TopTicksHours,fig1TopTicksHours.map(fmt),9.5,3.5,true);
ticksY(g,YL,x0,fig1LeftTicks,fig1LeftTicks.map(fmt),9.5,3.5,false);
ticksY(g,YR,x1,fig1RightTicks,fig1RightTicks.map(fmt),9.5,3.5,true);
let t=txt(1263,157,'time (h)',{'font-size':12.5,'text-anchor':'middle'},g);


t=rich(1263,398,'t (10<tspan dy="-5" font-size="8">3</tspan><tspan dy="5"> </tspan><tspan font-style="italic">r</tspan><tspan dy="3" font-size="8" font-style="italic">g</tspan><tspan dy="-3" font-style="italic">/c</tspan>)',{'font-size':12.5,'text-anchor':'middle'},g);


t=rich(941,273,'magnetic flux on horizon <tspan font-style="italic">ϕ</tspan>',{'font-size':12.5,'text-anchor':'middle',transform:'rotate(-90 941 273)'},g);


t=rich(1594,273,'NIR flux density <tspan font-style="italic">F</tspan><tspan font-size="8" dy="3">ν</tspan><tspan dy="-3"> (mJy)</tspan>',{'font-size':12.5,'text-anchor':'middle',transform:'rotate(-90 1594 273)'},g);


const lg=group('figure1-legend');g.appendChild(lg);
el('line',{x1:970,x2:994,y1:189,y2:189,stroke:'#1f77b4','stroke-width':1.5},lg);
t=txt(1001,193,'magnetic flux',{'font-size':11},lg);


el('line',{x1:1446,x2:1470,y1:189,y2:189,stroke:'#000','stroke-width':1.5},lg);
t=txt(1476,193,'NIR light curve',{'font-size':11},lg);


})();

// ================= FIGURE 2 (maps) =================
(function(){
const g=group('figure2-simulation-maps');
const cols=[1834,1972,2110,2248],rowY=[146,293,441,587,738],rowH=[147,148,146,148,144],cw=138;
const cfg=[
 {base:'#e4772c',hi:'#fcd46a',arm:'#f4a83c',dark:'#521570',darkOp:0.85},
 {base:'#2a0d58',hi:'#fbd35a',arm:'#e27034',dark:'#160a36',darkOp:0.7},
 {base:'#ec982c',hi:'#fbd060',arm:'#f7b640',dark:'#7a2270',darkOp:0.7},
 {base:'#f2ebe8',hi:'#9b1020',arm:'#e8a89a',dark:'#bcd8ec',darkOp:0.8},
 {base:'#07041a',hi:'#fde08a',arm:'#ec7a26',dark:'#3a1058',darkOp:0.6}];
const darkOff=[[-24,-4,20,30],[-20,8,30,40],[-28,-10,30,60],[-50,-10,14,60]];
const f1=el('filter',{id:'blur',x:'-50%',y:'-50%',width:'200%',height:'200%'},defs);el('feGaussianBlur',{stdDeviation:6},f1);
const f2=el('filter',{id:'blur1',x:'-20%',y:'-20%',width:'140%',height:'140%'},defs);el('feGaussianBlur',{stdDeviation:1.5},f2);
for(let r=0;r<5;r++){
 const C=cfg[r];
 const rg=el('radialGradient',{id:'rg'+r,cx:0.5,cy:0.5,r:0.5},defs);
 el('stop',{offset:0,'stop-color':C.hi,'stop-opacity':r==4?0:1},rg);
 el('stop',{offset:0.25,'stop-color':C.arm,'stop-opacity':r==4?0.9:0.8},rg);
 el('stop',{offset:1,'stop-color':C.base,'stop-opacity':0},rg);
 for(let c=0;c<4;c++){
  const x=cols[c],y=rowY[r],h=rowH[r],cx=x+cw/2,cy=y+h/2;
  const cp=el('clipPath',{id:'cp'+r+'_'+c},defs);
  el('rect',{x:x,y:y,width:cw,height:h},cp);
  const p=el('g',{'clip-path':'url(#cp'+r+'_'+c+')'},g);
  
  
  el('rect',{x:x,y:y,width:cw,height:h,fill:C.base},p);
  const d=darkOff[c];
  if(r<3) el('ellipse',{cx:cx+d[0],cy:cy+d[1],rx:d[2],ry:d[3],fill:C.dark,opacity:C.darkOp,transform:'rotate(-25 '+(cx+d[0])+' '+(cy+d[1])+')',filter:'url(#blur)'},p);
  if(r==3){for(let k=0;k<7;k++){el('ellipse',{cx:x+10+((k*37+c*23)%120),cy:y+10+((k*53+c*31)%125),rx:14,ry:9,fill:C.dark,opacity:0.8,filter:'url(#blur)'},p);}}
  if(r==4){el('circle',{cx:cx,cy:cy,r:48,fill:C.dark,opacity:0.9,filter:'url(#blur)'},p);}
  el('circle',{cx:cx,cy:cy,r:r==4?45:55,fill:'url(#rg'+r+')'},p);
  for(let a=0;a<3;a++){let dd='';for(let k=0;k<=40;k++){const th=k*0.16+a*2.1+c*0.6;const rr=8+k*1.35;dd+=(k?'L':'M')+(cx+rr*Math.cos(th)).toFixed(1)+' '+(cy-rr*Math.sin(th)).toFixed(1);}
   el('path',{d:dd,fill:'none',stroke:r==3?(a==0?'#b2182b':'#e39a8a'):C.arm,'stroke-width':r==4?5:3,opacity:r==4?0.8:(r==3?0.45:0.35),filter:'url(#blur1)'},p);
   if(r==4) el('path',{d:dd,fill:'none',stroke:C.hi,'stroke-width':1,opacity:0.45},p);}
  const bh=el('circle',{cx:cx,cy:cy,r:6.3,fill:'#000'},p);
  
  
  el('rect',{x:x,y:y,width:cw,height:h,fill:'none',stroke:'#222','stroke-width':0.8},g);
  if(r==0){const t=rich(cx,282,(c==0?'<tspan font-style="italic">t</tspan> = ':'')+fig2Times[c]+' <tspan font-style="italic">r</tspan><tspan font-size="8" dy="3" font-style="italic">g</tspan><tspan dy="-3" font-style="italic">/c</tspan>',{'font-size':13,'text-anchor':'middle',fill:'#fff'},g);
   
   }
 }
 const Yr=lin(15,-15,rowY[r],rowY[r]+rowH[r]);
 ticksY(g,Yr,1834,[10,5,0,-5,-10],['10','5','0','−5','−10'],8,3,false);
 const ly=rowY[r]+rowH[r]/2;
 const yl=rich(1800,ly,'<tspan font-style="italic">y</tspan> (<tspan font-style="italic">r</tspan><tspan font-size="6" dy="2" font-style="italic">g</tspan><tspan dy="-2">)</tspan>',{'font-size':8.5,'text-anchor':'middle',transform:'rotate(-90 1800 '+ly+')'},g);
 
 
 const grad=r==3?'rdbu':'inferno';
 colorbar(g,2389,rowY[r],rowY[r]+rowH[r],8,grad,cb2Vals[r],cb2Ticks[r],cb2Range[r][1],cb2Range[r][0],8,null,0);
}
const rowLabels=['log <tspan font-style="italic">ρ</tspan>','log <tspan font-style="italic">T</tspan><tspan font-size="8" dy="3" font-style="italic">e</tspan>','log <tspan font-style="italic">β</tspan>','<tspan font-style="italic">Q</tspan>','<tspan font-style="italic">I</tspan><tspan font-size="7" dy="3" font-style="italic">ν,NIR</tspan>'];
rowLabels.forEach((s,r)=>{const t=rich(1838,rowY[r]+17,s,{'font-size':12.5,fill:r==3?'#111':'#fff'},g);});
cols.forEach(x=>{const X=lin(-15,15,x,x+cw);ticksX(g,X,882,[-10,0,10],['−10','0','10'],8,3,false);
 const t=rich(x+cw/2,905,'<tspan font-style="italic">x</tspan> (<tspan font-style="italic">r</tspan><tspan font-size="6" dy="2" font-style="italic">g</tspan><tspan dy="-2">)</tspan>',{'font-size':9,'text-anchor':'middle'},g);
 
 });
})();

// ================= FIGURE 3 =================
(function(){
const g=group('figure3-left-centroid-flux');
const x0=2688,x1=2936,y0=149,y1=344;
const X=lin(134.7,456.6,x0,x1),YL=lin(-0.02,0.05,y1,y0),YR=lin(-11.9,20,y1,y0);
let s=line(g,fig3FluxT,fig3FluxV,X,YR,'#000',0.9);


dots(g,fig3FluxT,fig3FluxV,X,YR,'#000',2.6);
s=line(g,fig3CentT,fig3CentX,X,YL,'#1f77b4',0.8);


dots(g,fig3CentT,fig3CentX,X,YL,'#1f77b4',1.8);
s=line(g,fig3CentYT,fig3CentY,X,YL,'#ff7f0e',0.8);


dots(g,fig3CentYT,fig3CentY,X,YL,'#ff7f0e',1.8);
frame(g,x0,y0,x1,y1);
ticksX(g,X,y1,fig3XTicks,fig3XTicks.map(fmt),7.5,3,false);
ticksY(g,YL,x0,fig3LeftTicks,fig3LeftLabels,7.5,3,false);
ticksY(g,YR,x1,fig3RightTicks,fig3RightTicks.map(v=>v<0?'−'+(-v):String(v)),7.5,3,true);
let t=txt(2812,362,'time (min)',{'font-size':8.5,'text-anchor':'middle'},g);


t=txt(2654,246,'centroid position (mas)',{'font-size':8.5,'text-anchor':'middle',transform:'rotate(-90 2654 246)'},g);


t=txt(2966,246,'NIR flux density (mJy)',{'font-size':8.5,'text-anchor':'middle',transform:'rotate(-90 2966 246)'},g);


const lg=group('figure3-legend');g.appendChild(lg);
el('rect',{x:2693,y:155,width:80,height:28,fill:'#fff',stroke:'#ccc','stroke-width':0.8,rx:2},lg);
el('line',{x1:2697,x2:2713,y1:162,y2:162,stroke:'#1f77b4','stroke-width':1},lg);el('circle',{cx:2705,cy:162,r:2,fill:'#1f77b4'},lg);
t=txt(2717,165,'x centroid',{'font-size':8},lg);
el('line',{x1:2697,x2:2713,y1:176,y2:176,stroke:'#ff7f0e','stroke-width':1},lg);el('circle',{cx:2705,cy:176,r:2,fill:'#ff7f0e'},lg);
t=txt(2717,179,'y',{'font-size':8},lg);
el('rect',{x:2881,y:155,width:50,height:17,fill:'#fff',stroke:'#ccc','stroke-width':0.8,rx:2},lg);
el('line',{x1:2885,x2:2903,y1:163,y2:163,stroke:'#000','stroke-width':1},lg);el('circle',{cx:2894,cy:163,r:2.6,fill:'#000'},lg);
t=txt(2907,166,'flux',{'font-size':8},lg);

const g2=group('figure3-right-sky-track');
const sx0=3029,sx1=3217,sy0=146,sy1=337;
const SX=lin(-24.2,24,sx0,sx1),SY=lin(-24.1,24.2,sy1,sy0);
fig3SkyT.forEach((tm,i)=>{const c=el('circle',{cx:SX(fig3SkyX[i]),cy:SY(fig3SkyY[i]),r:3.3,fill:cmap(tm/86)},g2);
 if(i<fig3SkyT.length-1){const c2=el('circle',{cx:SX((fig3SkyX[i]+fig3SkyX[i+1])/2),cy:SY((fig3SkyY[i]+fig3SkyY[i+1])/2),r:3.3,fill:cmap((tm+1)/86)},g2);}});
frame(g2,sx0,sy0,sx1,sy1);
ticksX(g2,SX,sy1,skyTicks,skyTicks.map(v=>v<0?'−'+(-v):String(v)),8,3,false);
ticksY(g2,SY,sx0,skyTicks,skyTicks.map(v=>v<0?'−'+(-v):String(v)),8,3,false);
t=rich(3123,360,'<tspan font-style="italic">x</tspan> (<tspan font-style="italic">μ</tspan>as)',{'font-size':9,'text-anchor':'middle'},g2);
t=rich(2997,242,'<tspan font-style="italic">y</tspan> (<tspan font-style="italic">μ</tspan>as)',{'font-size':9,'text-anchor':'middle',transform:'rotate(-90 2997 242)'},g2);
colorbar(g2,3231,146,337,9,'ryb',cbTicks,cbTicks.map(fmt),0,86,8,'time (min)',3264);
})();

// ================= FIGURE 4 =================
(function(){
const g=group('figure4-left-polarization');
const x0=2709,x1=2948,y0=463,y1=649;
const X=lin(315.6,414.9,x0,x1),Y=lin(-0.263,0.266,y1,y0);
const T=fig4Q.map((v,i)=>fig4Start+i*fig4Step);
let s=line(g,T,fig4Q,X,Y,'#e41a1c',1.1);
s=line(g,T,fig4U,X,Y,'#0a0aa8',1.1);
frame(g,x0,y0,x1,y1);
ticksX(g,X,y1,fig4XTicks,fig4XTicks.map(fmt),8,3,false);
ticksY(g,Y,x0,fig4YTicks,fig4YLabels,8,3,false);
let t=txt(2828,674,'time (min)',{'font-size':9.5,'text-anchor':'middle'},g);
t=txt(2676,556,'linear polarization fraction',{'font-size':9.5,'text-anchor':'middle',transform:'rotate(-90 2676 556)'},g);
const lg=group('figure4-legend');g.appendChild(lg);
el('rect',{x:2715,y:466,width:50,height:35,fill:'#fff',stroke:'#ccc','stroke-width':0.8,rx:2},lg);
el('line',{x1:2719,x2:2736,y1:475,y2:475,stroke:'#e41a1c','stroke-width':1.5},lg);
t=txt(2741,478,'Q/I',{'font-size':9},lg);
el('line',{x1:2719,x2:2736,y1:491,y2:491,stroke:'#0a0aa8','stroke-width':1.5},lg);
t=txt(2741,494,'U/I',{'font-size':9},lg);

const g2=group('figure4-right-qu-plane');
const sx0=3011,sx1=3198,sy0=463,sy1=649;
const SX=lin(-0.284,0.282,sx0,sx1),SY=lin(-0.28,0.28,sy1,sy0);
fig4QUT.forEach((tm,i)=>{const c=el('circle',{cx:SX(fig4QUq[i]),cy:SY(fig4QUu[i]),r:3.2,fill:cmap(tm/86)},g2);
 if(i<fig4QUT.length-1){const c2=el('circle',{cx:SX((fig4QUq[i]+fig4QUq[i+1])/2),cy:SY((fig4QUu[i]+fig4QUu[i+1])/2),r:3.2,fill:cmap((tm+1)/86)},g2);}});
frame(g2,sx0,sy0,sx1,sy1);
ticksX(g2,SX,sy1,quTicks,quLabels,8,3,false);
ticksY(g2,SY,sx0,quTicks,quLabels,8,3,false);
t=txt(3105,674,'Q/I',{'font-size':9.5,'text-anchor':'middle'},g2);
t=txt(2979,556,'U/I',{'font-size':9.5,'text-anchor':'middle',transform:'rotate(-90 2979 556)'},g2);
colorbar(g2,3213,463,649,9,'ryb',cbTicks,cbTicks.map(fmt),0,86,8,'time (min)',3249);
})();

// ================= FIGURE 5 =================
(function(){
const g=group('figure5-left-light-curves');
const x0=3527,x1=3796,y0=150,y1=359;
const X=lin(138.5,460,x0,x1),Y=lin(-0.065,1.981,y1,y0);
let s=line(g,fig5T,fig5R,X,Y,'#d62728',1.2);
dots(g,fig5T,fig5R,X,Y,'#d62728',1.6);
s=line(g,fig5T,fig5K,X,Y,'#000',1.1);
dots(g,fig5T,fig5K,X,Y,'#000',1.5);
s=line(g,fig5T,fig5L,X,Y,'#1f77b4',1.1);
dots(g,fig5T,fig5L,X,Y,'#1f77b4',1.5);
frame(g,x0,y0,x1,y1);
ticksX(g,X,y1,fig5XTicks,fig5XTicks.map(fmt),9,3,false);
ticksY(g,Y,x0,fig5YTicks,fig5YLabels,9,3,false);
let t=txt(3661,387,'time (min)',{'font-size':11,'text-anchor':'middle'},g);
t=rich(3490,254,'luminosity <tspan font-style="italic">νL</tspan><tspan font-size="7" dy="3" font-style="italic">ν</tspan><tspan dy="-3"> (10</tspan><tspan font-size="7" dy="-5">35</tspan><tspan dy="5"> erg s</tspan><tspan font-size="7" dy="-5">−1</tspan><tspan dy="5">)</tspan>',{'font-size':11,'text-anchor':'middle',transform:'rotate(-90 3490 254)'},g);
const lg=group('figure5-legend');g.appendChild(lg);
el('rect',{x:3716,y:153,width:74,height:47,fill:'#fff',stroke:'#ccc','stroke-width':0.8,rx:2},lg);
[['#000','NIR K'],['#1f77b4','NIR L'],['#d62728','230 GHz']].forEach((e,i)=>{const yy=163+i*14.5;el('line',{x1:3720,x2:3738,y1:yy,y2:yy,stroke:e[0],'stroke-width':1.5},lg);el('circle',{cx:3729,cy:yy,r:1.6,fill:e[0]},lg);const tt=txt(3743,yy+3.5,e[1],{'font-size':9.5},lg);});

const g2=group('figure5-right-sed');
const sx0=3865,sx1=4135,sy0=147,sy1=357;
const SX=lin(10.84,14.32,sx0,sx1),SY=lin(34,35.48,sy1,sy0);
s=line(g2,sedLogNu,sedMedian,SX,SY,'#1f77b4',1.4);
s=line(g2,sedLogNu,sedPeak,SX,SY,'#000',1.4);
frame(g2,sx0,sy0,sx1,sy1);
for(let d=10;d<=14;d++)for(let m=2;m<=9;m++){const v=d+Math.log10(m);if(v>10.84&&v<14.32){el('line',{x1:SX(v),x2:SX(v),y1:sy1,y2:sy1+2,stroke:'#222','stroke-width':0.6},g2);}}
for(let m=2;m<=9;m++){const v=34+Math.log10(m);el('line',{x1:sx0,x2:sx0-2,y1:SY(v),y2:SY(v),stroke:'#222','stroke-width':0.6},g2);const v2=35+Math.log10(m);if(v2<35.48)el('line',{x1:sx0,x2:sx0-2,y1:SY(v2),y2:SY(v2),stroke:'#222','stroke-width':0.6},g2);}
sedXTicks.forEach(v=>{el('line',{x1:SX(v),x2:SX(v),y1:sy1,y2:sy1+3.5,stroke:'#222','stroke-width':0.8},g2);const tt=rich(SX(v),sy1+15,'10<tspan font-size="6.5" dy="-4">'+v+'</tspan>',{'font-size':9.5,'text-anchor':'middle'},g2);});
sedYTicks.forEach(v=>{el('line',{x1:sx0,x2:sx0-3.5,y1:SY(v),y2:SY(v),stroke:'#222','stroke-width':0.8},g2);const tt=rich(sx0-5,SY(v)+3,'10<tspan font-size="6.5" dy="-4">'+v+'</tspan>',{'font-size':9.5,'text-anchor':'end'},g2);});
t=rich(4000,384,'frequency <tspan font-style="italic">ν</tspan> (Hz)',{'font-size':11,'text-anchor':'middle'},g2);
t=rich(3829,252,'luminosity <tspan font-style="italic">νL</tspan><tspan font-size="7" dy="3" font-style="italic">ν</tspan><tspan dy="-3"> (erg s</tspan><tspan font-size="7" dy="-5">−1</tspan><tspan dy="5">)</tspan>',{'font-size':11,'text-anchor':'middle',transform:'rotate(-90 3829 252)'},g2);
const lg2=group('figure5-right-legend');g2.appendChild(lg2);
el('line',{x1:4033,x2:4057,y1:323,y2:323,stroke:'#1f77b4','stroke-width':1.8},lg2);
t=txt(4066,327,'median',{'font-size':11},lg2);
el('line',{x1:4033,x2:4057,y1:341,y2:341,stroke:'#000','stroke-width':1.8},lg2);
t=txt(4066,345,'flare peak',{'font-size':11},lg2);
})();
</script>
</body></html>
